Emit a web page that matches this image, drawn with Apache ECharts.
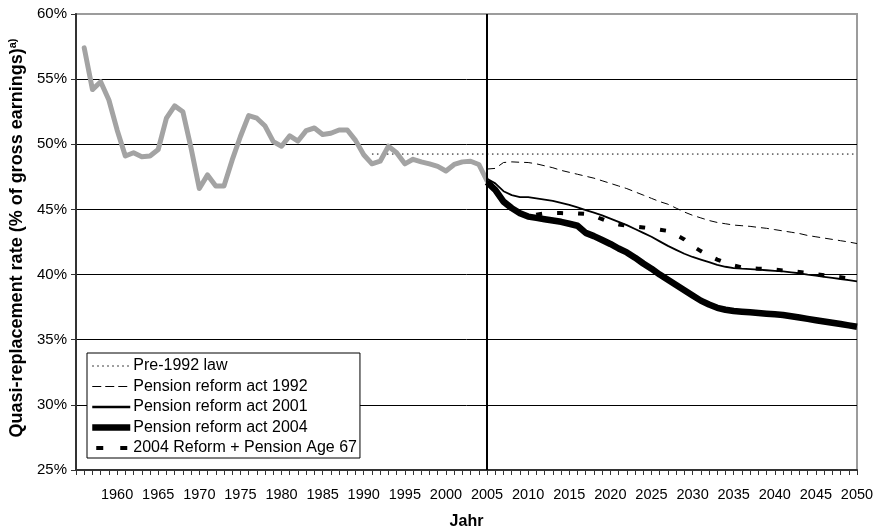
<!DOCTYPE html>
<html>
<head>
<meta charset="utf-8">
<script src="https://cdn.jsdelivr.net/npm/echarts@6/dist/echarts.min.js"></script>
<style>
  html, body { margin: 0; padding: 0; background: #fff; }
  #chart { width: 876px; height: 529px; }
</style>
</head>
<body>
<div id="chart"></div>
<script>
// Observed quasi-replacement rate, 1956-2005 (% of gross earnings)
const histStart = 1956;
const histValues = [
  57.4, 54.2, 54.8, 53.4, 51.1, 49.1, 49.35, 49.05, 49.1, 49.6,
  52.0, 52.95, 52.5, 49.7, 46.6, 47.65, 46.8, 46.8, 48.8, 50.6,
  52.2, 52.0, 51.4, 50.2, 49.85, 50.65, 50.25, 51.05, 51.25, 50.75,
  50.85, 51.1, 51.1, 50.3, 49.2, 48.5, 48.7, 49.85, 49.35, 48.5,
  48.85, 48.65, 48.5, 48.3, 47.95, 48.45, 48.65, 48.7, 48.45, 47.2
];

// Pre-1992 law, 1991-2050
const pre1992Start = 1991;
const pre1992Values = new Array(60).fill(49.25);

// Projections 2005-2050
const projStart = 2005;
const reform1992 = [
  48.1, 48.15, 48.6, 48.65, 48.62, 48.6, 48.5, 48.35, 48.2, 48.0,
  47.85, 47.7, 47.55, 47.4, 47.2, 47.0, 46.8, 46.6, 46.35, 46.1,
  45.85, 45.6, 45.4, 45.1, 44.8, 44.55, 44.35, 44.15, 44.0, 43.9,
  43.8, 43.75, 43.7, 43.62, 43.55, 43.45, 43.35, 43.25, 43.15, 43.0,
  42.9, 42.8, 42.7, 42.6, 42.5, 42.38
];
const reform2001 = [
  47.35, 47.0, 46.4, 46.1, 45.95, 45.95, 45.85, 45.75, 45.65, 45.5,
  45.35, 45.15, 44.95, 44.75, 44.55, 44.3, 44.05, 43.8, 43.5, 43.2,
  42.9, 42.55, 42.2, 41.9, 41.6, 41.35, 41.15, 40.95, 40.75, 40.6,
  40.5, 40.45, 40.42, 40.38, 40.33, 40.28, 40.24, 40.17, 40.1, 40.0,
  39.92, 39.83, 39.75, 39.66, 39.57, 39.48
];
const reform2004 = [
  47.1, 46.5, 45.6, 45.1, 44.7, 44.45, 44.35, 44.25, 44.15, 44.05,
  43.9, 43.75, 43.2, 42.95, 42.65, 42.35, 42.0, 41.7, 41.3, 40.85,
  40.45, 40.0, 39.6, 39.2, 38.8, 38.4, 38.0, 37.7, 37.45, 37.3,
  37.2, 37.15, 37.1, 37.05, 37.0, 36.95, 36.9, 36.8, 36.7, 36.6,
  36.5, 36.4, 36.3, 36.2, 36.1, 36.0
];
const reform2004Age67 = [
  47.1, 46.5, 45.6, 45.1, 44.7, 44.45, 44.6, 44.7, 44.72, 44.72,
  44.7, 44.7, 44.65, 44.5, 44.25, 44.0, 43.85, 43.75, 43.68, 43.62,
  43.55, 43.45, 43.35, 43.05, 42.7, 42.2, 41.8, 41.45, 41.15, 40.9,
  40.7, 40.55, 40.48, 40.45, 40.43, 40.38, 40.32, 40.26, 40.2, 40.12,
  40.03, 39.95, 39.88, 39.8, 39.7, 39.62
];

const seriesNames = [
  'Pre-1992 law',
  'Pension reform act 1992',
  'Pension reform act 2001',
  'Pension reform act 2004',
  '2004 Reform + Pension Age 67'
];

// Line styles per scenario for the plotted lines
const styles = [
  { color: '#000', width: 1, type: [1.5, 3.5] },
  { color: '#000', width: 1, type: [8, 5] },
  { color: '#000', width: 1.8, type: 'solid', join: 'round' },
  { color: '#000', width: 6.5, type: 'solid', join: 'round' },
  { color: '#000', width: 4, type: [6, 15] }
];
// Matching keys in the legend box
const legendKeyStyles = [
  { color: '#000', width: 1, type: [1.5, 3.5] },
  { color: '#000', width: 1, type: [9, 4] },
  { color: '#000', width: 2.5, type: 'solid' },
  { color: '#000', width: 6.5, type: 'solid' },
  { color: '#000', width: 4, type: [7, 17], dashOffset: -4 }
];

function pairs(start, values) {
  return values.map((v, i) => [start + i, v]);
}

const FONT = '"Liberation Sans", Arial, sans-serif';
const chart = echarts.init(document.getElementById('chart'), null, { renderer: 'canvas' });

chart.setOption({
  animation: false,
  backgroundColor: '#ffffff',
  textStyle: { fontFamily: FONT, color: '#000' },
  grid: {
    left: 76, right: 19, top: 14, bottom: 59,
    containLabel: false,
    outerBoundsMode: 'none',
    show: true, borderColor: '#9c9c9c', borderWidth: 2, backgroundColor: 'transparent'
  },
  legend: {
    data: seriesNames.map((n, i) => ({ name: n, lineStyle: legendKeyStyles[i] })),
    orient: 'vertical',
    left: 87, top: 353,
    padding: [5, 3, 2, 2],
    itemGap: 4.5,
    itemWidth: 38, itemHeight: 14,
    backgroundColor: '#ffffff',
    borderColor: '#000', borderWidth: 1,
    textStyle: { fontFamily: FONT, fontSize: 16, color: '#000', padding: [0, 0, 0, -2] },
    itemStyle: { opacity: 0 },
    selectedMode: false
  },
  xAxis: {
    type: 'value',
    min: 1955, max: 2050, interval: 5,
    name: 'Jahr',
    nameLocation: 'middle',
    nameGap: 44,
    nameTextStyle: { fontFamily: FONT, fontSize: 16, fontWeight: 'bold', color: '#000' },
    axisLine: { show: true, onZero: false, lineStyle: { color: '#333', width: 2 } },
    axisTick: { show: true, inside: false, length: 5, lineStyle: { color: '#333', width: 1 } },
    minorTick: { show: true, splitNumber: 5, length: 5, lineStyle: { color: '#333', width: 1 } },
    axisLabel: {
      fontFamily: FONT, fontSize: 14.5, color: '#000', margin: 17,
      formatter: v => (v === 1955 ? '' : String(v))
    },
    splitLine: { show: false }
  },
  yAxis: {
    type: 'value',
    min: 25, max: 60, interval: 5,
    name: '{m|Quasi-replacement rate (% of gross earnings)}{s|a)}',
    nameLocation: 'middle',
    nameGap: 46,
    nameRotate: 90,
    nameTextStyle: {
      rich: {
        m: { fontFamily: FONT, fontSize: 18, fontWeight: 'bold', color: '#000', padding: [0, 0, 0, 8] },
        s: { fontFamily: FONT, fontSize: 11, fontWeight: 'bold', color: '#000', verticalAlign: 'top', padding: [0, 0, 9, 0] }
      }
    },
    axisLine: { show: true, lineStyle: { color: '#333', width: 2 } },
    axisTick: { show: true, inside: false, length: 5, lineStyle: { color: '#333', width: 1 } },
    axisLabel: {
      fontFamily: FONT, fontSize: 15, color: '#000', margin: 9,
      formatter: v => v + '%'
    },
    splitLine: { show: true, showMinLine: false, showMaxLine: false, lineStyle: { color: '#000', width: 1 } }
  },
  series: [
    {
      name: 'Historical',
      type: 'line',
      data: pairs(histStart, histValues),
      symbol: 'none',
      lineStyle: { color: '#a3a3a3', width: 5, join: 'round', cap: 'round' },
      z: 3,
      markLine: {
        silent: true,
        symbol: 'none',
        label: { show: false },
        lineStyle: { color: '#000', width: 2, type: 'solid' },
        data: [{ xAxis: 2005 }]
      }
    },
    {
      name: seriesNames[0],
      type: 'line',
      data: pairs(pre1992Start, pre1992Values),
      symbol: 'none',
      lineStyle: styles[0],
      z: 2
    },
    {
      name: seriesNames[1],
      type: 'line',
      data: pairs(projStart, reform1992),
      symbol: 'none',
      lineStyle: styles[1],
      z: 4
    },
    {
      name: seriesNames[2],
      type: 'line',
      data: pairs(projStart, reform2001),
      symbol: 'none',
      lineStyle: styles[2],
      z: 5
    },
    {
      name: seriesNames[4],
      type: 'line',
      data: pairs(projStart, reform2004Age67),
      symbol: 'none',
      lineStyle: styles[4],
      z: 6
    },
    {
      name: seriesNames[3],
      type: 'line',
      data: pairs(projStart, reform2004),
      symbol: 'none',
      lineStyle: styles[3],
      z: 7
    }
  ]
});
</script>
</body>
</html>
